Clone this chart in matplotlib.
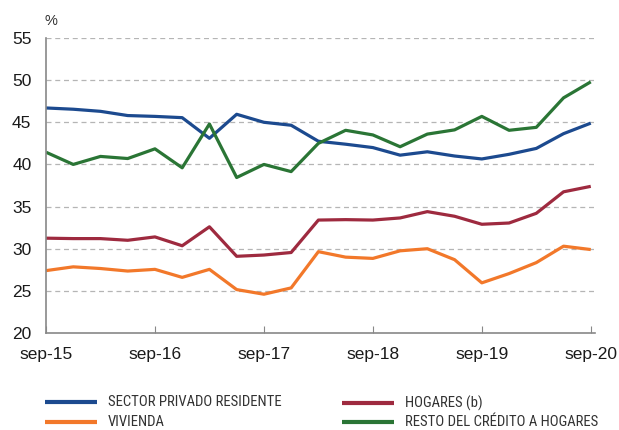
import matplotlib.pyplot as plt
from matplotlib.lines import Line2D
import numpy as np

# Quarterly observations, sep-15 .. sep-20
periods = np.arange(21)
tick_pos = [0, 4, 8, 12, 16, 20]
tick_labels = ['sep-15', 'sep-16', 'sep-17', 'sep-18', 'sep-19', 'sep-20']

sector_privado = [46.7, 46.55, 46.3, 45.8, 45.7, 45.55, 43.1, 45.95, 45.0, 44.65, 42.75,
                  42.4, 42.0, 41.1, 41.5, 41.0, 40.65, 41.2, 41.9, 43.65, 44.9]
hogares = [31.25, 31.2, 31.2, 31.0, 31.4, 30.35, 32.6, 29.1, 29.25, 29.55, 33.4,
           33.45, 33.4, 33.65, 34.4, 33.85, 32.9, 33.05, 34.2, 36.75, 37.4]
vivienda = [27.4, 27.85, 27.65, 27.35, 27.55, 26.6, 27.55, 25.15, 24.6, 25.35, 29.65,
            29.0, 28.85, 29.75, 30.0, 28.7, 25.95, 27.05, 28.35, 30.3, 29.9]
resto = [41.45, 40.0, 40.95, 40.7, 41.85, 39.6, 44.8, 38.45, 40.0, 39.15, 42.5,
         44.05, 43.5, 42.1, 43.6, 44.1, 45.7, 44.05, 44.4, 47.9, 49.8]

series = [
    ('SECTOR PRIVADO RESIDENTE', sector_privado, '#1c4a8f'),
    ('VIVIENDA', vivienda, '#f2782a'),
    ('HOGARES (b)', hogares, '#9e2a3f'),
    ('RESTO DEL CRÉDITO A HOGARES', resto, '#2a7535'),
]

plt.rcParams['font.family'] = ['Liberation Sans', 'DejaVu Sans']
narrow = ['Roboto Condensed', 'Archivo Narrow', 'Liberation Sans']

fig = plt.figure(figsize=(6.19, 4.30), dpi=100)
ax = fig.add_axes([0.0743, 0.2256, 0.8867, 0.686])

lw = 2.3
for name, vals, col in series:
    ax.plot(periods, vals, color=col, lw=lw, solid_capstyle='butt')

ax.set_xlim(0, 20.15)
ax.set_ylim(20, 55)
ax.set_yticks(range(20, 56, 5))
ax.set_xticks(tick_pos)
ax.set_xticklabels(tick_labels)
ax.tick_params(axis='y', length=0, labelsize=12.5, pad=10.5, colors='#1a1a1a')
ax.tick_params(axis='x', direction='in', length=5, color='#888888', labelsize=12.5,
               pad=10, labelcolor='#1a1a1a')
for y in range(25, 56, 5):
    ax.axhline(y, color='#b5b5b5', lw=0.9, ls=(0, (4, 3)), zorder=0)
for s in ['top', 'right']:
    ax.spines[s].set_visible(False)
for s in ['left', 'bottom']:
    ax.spines[s].set_color('#888888')
    ax.spines[s].set_linewidth(1.2)

fig.text(0.082, 0.952, '%', fontsize=10.5, color='#333333', ha='center', va='center')

# legend drawn by hand in figure pixels: two columns, two rows
W, H = 619, 430
legend_slots = [(45, 402), (45, 422), (342, 403), (342, 422)]
for (name, vals, col), (x0, y0) in zip(series, legend_slots):
    fig.add_artist(Line2D([x0 / W, (x0 + 52) / W], [1 - y0 / H, 1 - y0 / H],
                          color=col, lw=3, solid_capstyle='butt'))
    fig.text((x0 + 63) / W, 1 - y0 / H, name, family=narrow, fontsize=10.6,
             color='#333333', ha='left', va='center')

fig.savefig('out.png', dpi=100)
